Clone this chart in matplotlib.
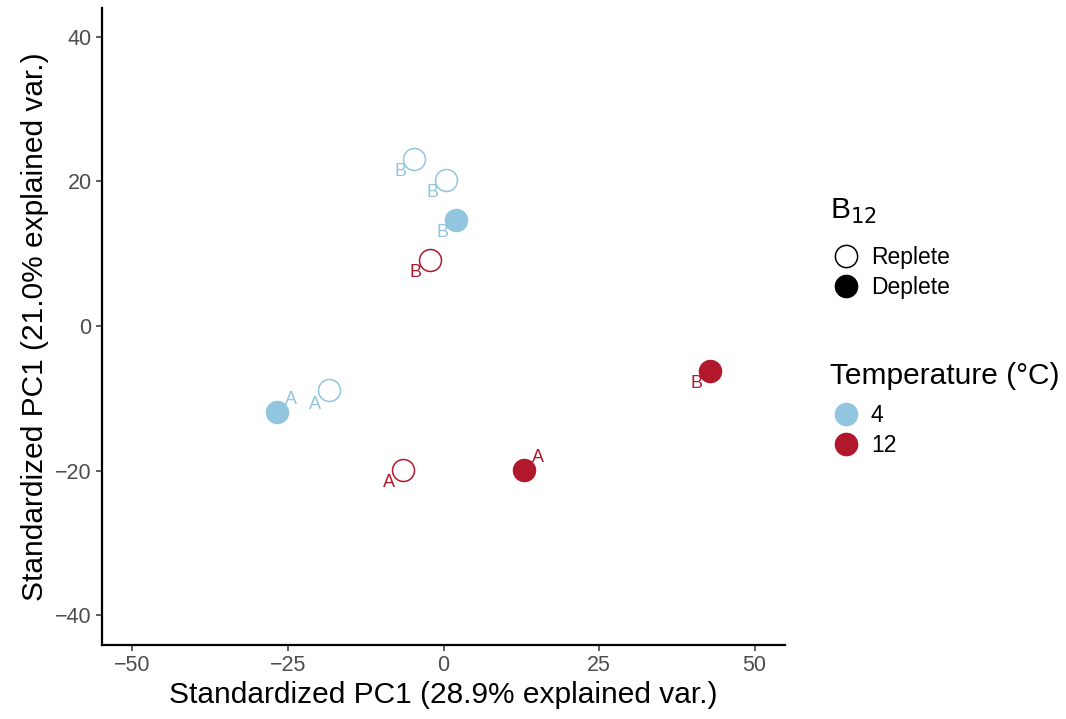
import numpy as np
import matplotlib.pyplot as plt
from matplotlib.lines import Line2D

plt.rcParams['font.family'] = ['Liberation Sans', 'DejaVu Sans']

# PCA scores
pc1 = [-4.75, 0.4, 2.0, -2.2, -26.8, -18.4, -6.5, 12.95, 42.9]
pc2 = [23.1, 20.2, 14.6, 9.1, -11.9, -8.9, -19.9, -19.9, -6.25]
temp = [4, 4, 4, 12, 4, 4, 12, 12, 12]
b12 = ["Replete", "Replete", "Deplete", "Replete", "Deplete", "Replete", "Replete", "Deplete", "Deplete"]
labels = ["B", "B", "B", "B", "A", "A", "A", "A", "B"]
# label offsets in points (label placement like ggrepel)
lab_dx = [-10, -10, -10, -10, 10, -10, -10, 10, -10]
lab_dy = [-9, -9, -9, -9, 9, -10, -9, 9, -9]

temp_colors = {4: "#92C5DE", 12: "#B2182B"}

fig = plt.figure(figsize=(10.66, 7.19), dpi=100)
ax = fig.add_axes([102 / 1066, 1 - 645 / 719, (785 - 102) / 1066, (645 - 8) / 719])

for x, y, t, b, lab, dx, dy in zip(pc1, pc2, temp, b12, labels, lab_dx, lab_dy):
    c = temp_colors[t]
    face = c if b == "Deplete" else "white"
    ax.scatter(x, y, s=250, facecolor=face, edgecolor=c, linewidth=1.1, zorder=3)
    ax.annotate(lab, (x, y), xytext=(dx, dy), textcoords="offset points",
                ha="center", va="center", color=c, fontsize=13)

ax.set_xlim(-54.9, 54.9)
ax.set_ylim(-44.1, 43.95)
ax.set_xticks([-50, -25, 0, 25, 50])
ax.set_yticks([-40, -20, 0, 20, 40])
ax.set_xticklabels(["\u221250", "\u221225", "0", "25", "50"])
ax.set_yticklabels(["\u221240", "\u221220", "0", "20", "40"])
ax.tick_params(colors="#333333", labelcolor="#4D4D4D", labelsize=15.5, length=4, width=1.1, direction="out")
for s in ["top", "right"]:
    ax.spines[s].set_visible(False)
for s in ["left", "bottom"]:
    ax.spines[s].set_linewidth(1.6)
ax.set_xlabel("Standardized PC1 (28.9% explained var.)", fontsize=21.5, labelpad=3)
ax.set_ylabel("Standardized PC1 (21.0% explained var.)", fontsize=21.5, labelpad=4)

h_b12 = [Line2D([], [], marker="o", linestyle="", markersize=16, markerfacecolor="white",
                markeredgecolor="black", markeredgewidth=1.1, label="Replete"),
         Line2D([], [], marker="o", linestyle="", markersize=16, markerfacecolor="black",
                markeredgecolor="black", label="Deplete")]
h_temp = [Line2D([], [], marker="o", linestyle="", markersize=16, markerfacecolor=temp_colors[t],
                 markeredgecolor=temp_colors[t], label=str(t)) for t in [4, 12]]

common = dict(loc="upper left", frameon=False, fontsize=16.5,
              handletextpad=0.55, labelspacing=0.3, handlelength=1.1, borderpad=0.2)
fig.text(830 / 1066, 1 - 211 / 719, "B$_{12}$", fontsize=21.5, va="center", ha="left")
fig.legend(handles=h_b12, bbox_to_anchor=(817 / 1066, 1 - 230 / 719), **common)
fig.text(830 / 1066, 1 - 376 / 719, "Temperature (\u00b0C)", fontsize=21.5, va="center", ha="left")
fig.legend(handles=h_temp, bbox_to_anchor=(817 / 1066, 1 - 388 / 719), **common)

fig.savefig("out.png", dpi=100)
